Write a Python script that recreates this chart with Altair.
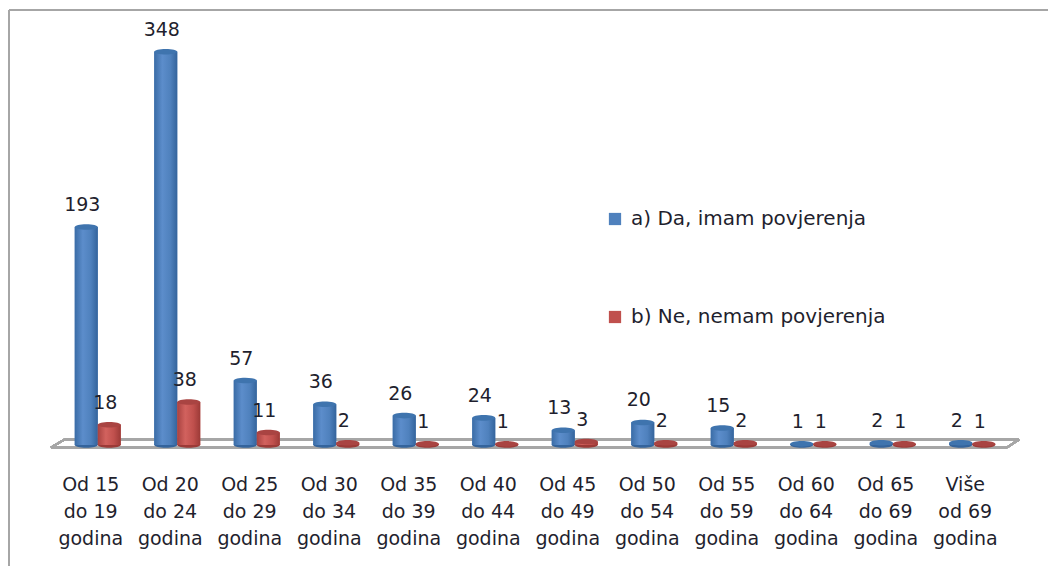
import altair as alt
import pandas as pd

categories = ["Od 15\ndo 19\ngodina", "Od 20\ndo 24\ngodina", "Od 25\ndo 29\ngodina", "Od 30\ndo 34\ngodina",
              "Od 35\ndo 39\ngodina", "Od 40\ndo 44\ngodina", "Od 45\ndo 49\ngodina", "Od 50\ndo 54\ngodina",
              "Od 55\ndo 59\ngodina", "Od 60\ndo 64\ngodina", "Od 65\ndo 69\ngodina", "Više\nod 69\ngodina"]
da_values = [193, 348, 57, 36, 26, 24, 13, 20, 15, 1, 2, 2]
ne_values = [18, 38, 11, 2, 1, 1, 3, 2, 2, 1, 1, 1]
series = ["a) Da, imam povjerenja", "b) Ne, nemam povjerenja"]

df = pd.DataFrame(
    [{"cat": c, "series": series[0], "value": v} for c, v in zip(categories, da_values)]
    + [{"cat": c, "series": series[1], "value": v} for c, v in zip(categories, ne_values)]
)
df["zero"] = 0

FONT = "DejaVu Sans"
GREY = "#a6a6a6"
TEXT = "#1f1f2e"
x = alt.X("cat:N", sort=categories, title=None,
          scale=alt.Scale(paddingInner=0.4214, paddingOuter=0.2107),
          axis=alt.Axis(domain=False, ticks=False, labelAngle=0, labelOffset=-7, labelPadding=30,
                        labelExpr="split(datum.label,'\\n')", labelFont=FONT, labelFontSize=19,
                        labelColor=TEXT, labelLineHeight=27, labelBaseline="top"))
xo = alt.XOffset("series:N", sort=series, scale=alt.Scale(paddingInner=0, paddingOuter=0))
yscale = alt.Scale(domain=[0, 386.7], nice=False, zero=False)
y = alt.Y("value:Q", scale=yscale, axis=None)
ELLIPSE = "M-1,0A1,0.24,0,1,1,1,0A1,0.24,0,1,1,-1,0Z"
styles = {
    series[0]: ("#3f74ae", ["#3a6ca6", "#5c8dcb", "#4f81bd", "#34649c"]),
    series[1]: ("#a94442", ["#a84240", "#d2625e", "#c0504d", "#9c3a37"]),
}

base = alt.Chart(df)


def seg(x1, y1, x2, y2, width=2.0):
    return alt.Chart(df).mark_rule(color=GREY, strokeWidth=width, clip=False).encode(
        x=alt.value(x1), y=alt.value(y1), x2=alt.value(x2), y2=alt.value(y2))


layers = [
    seg(-49, 2, -49, 558), seg(-49, 2, 990, 2),
    seg(6.5, 431.5, 961, 431.5), seg(-7, 439.5, 949, 439.5), seg(-7, 439.5, 6.5, 431.5), seg(949, 439.5, 961, 431.5),
]

# flat bars carry the colour scale and the legend
legend_bars = base.mark_bar().encode(
    x=x, xOffset=xo, y=y, y2=alt.Y2("zero:Q"),
    color=alt.Color("series:N", sort=series,
                    scale=alt.Scale(domain=series, range=["#4f81bd", "#c0504d"]),
                    legend=alt.Legend(title=None, orient="none", legendX=547, legendY=201,
                                      symbolType="square", symbolSize=150, symbolStrokeWidth=0,
                                      rowPadding=78, labelFont=FONT, labelFontSize=20,
                                      labelColor=TEXT, labelLimit=320, labelOffset=6)),
)
layers.append(legend_bars)
for s in series:
    top, stops = styles[s]
    sub = base.transform_filter(alt.datum.series == s)
    layers.append(sub.mark_point(shape=ELLIPSE, size=529, filled=True, opacity=1, color=stops[3]).encode(
        x=x, xOffset=xo, y=alt.Y("zero:Q", scale=yscale, axis=None)))
    layers.append(sub.mark_bar(color=alt.Gradient(
        gradient="linear", x1=0, x2=1, y1=0, y2=0,
        stops=[alt.GradientStop(offset=0, color=stops[0]),
               alt.GradientStop(offset=0.35, color=stops[1]),
               alt.GradientStop(offset=0.7, color=stops[2]),
               alt.GradientStop(offset=1, color=stops[3])])).encode(x=x, xOffset=xo, y=y, y2=alt.Y2("zero:Q")))
    layers.append(sub.mark_point(shape=ELLIPSE, size=529, filled=True, opacity=1, color=top).encode(
        x=x, xOffset=xo, y=y))

layers.append(base.mark_text(font=FONT, fontSize=19, color=TEXT, dx=-4, dy=-22).encode(
    x=x, xOffset=xo, y=y, text="value:Q"))

chart = alt.layer(*layers).properties(
    width=954, height=437,
    padding={"left": 50, "top": 0, "right": 36, "bottom": 121},
    autosize=alt.AutoSizeParams(type="none"),
).configure_view(stroke=None)

chart.save("out.html", embed_options={"renderer": "svg", "actions": False})
